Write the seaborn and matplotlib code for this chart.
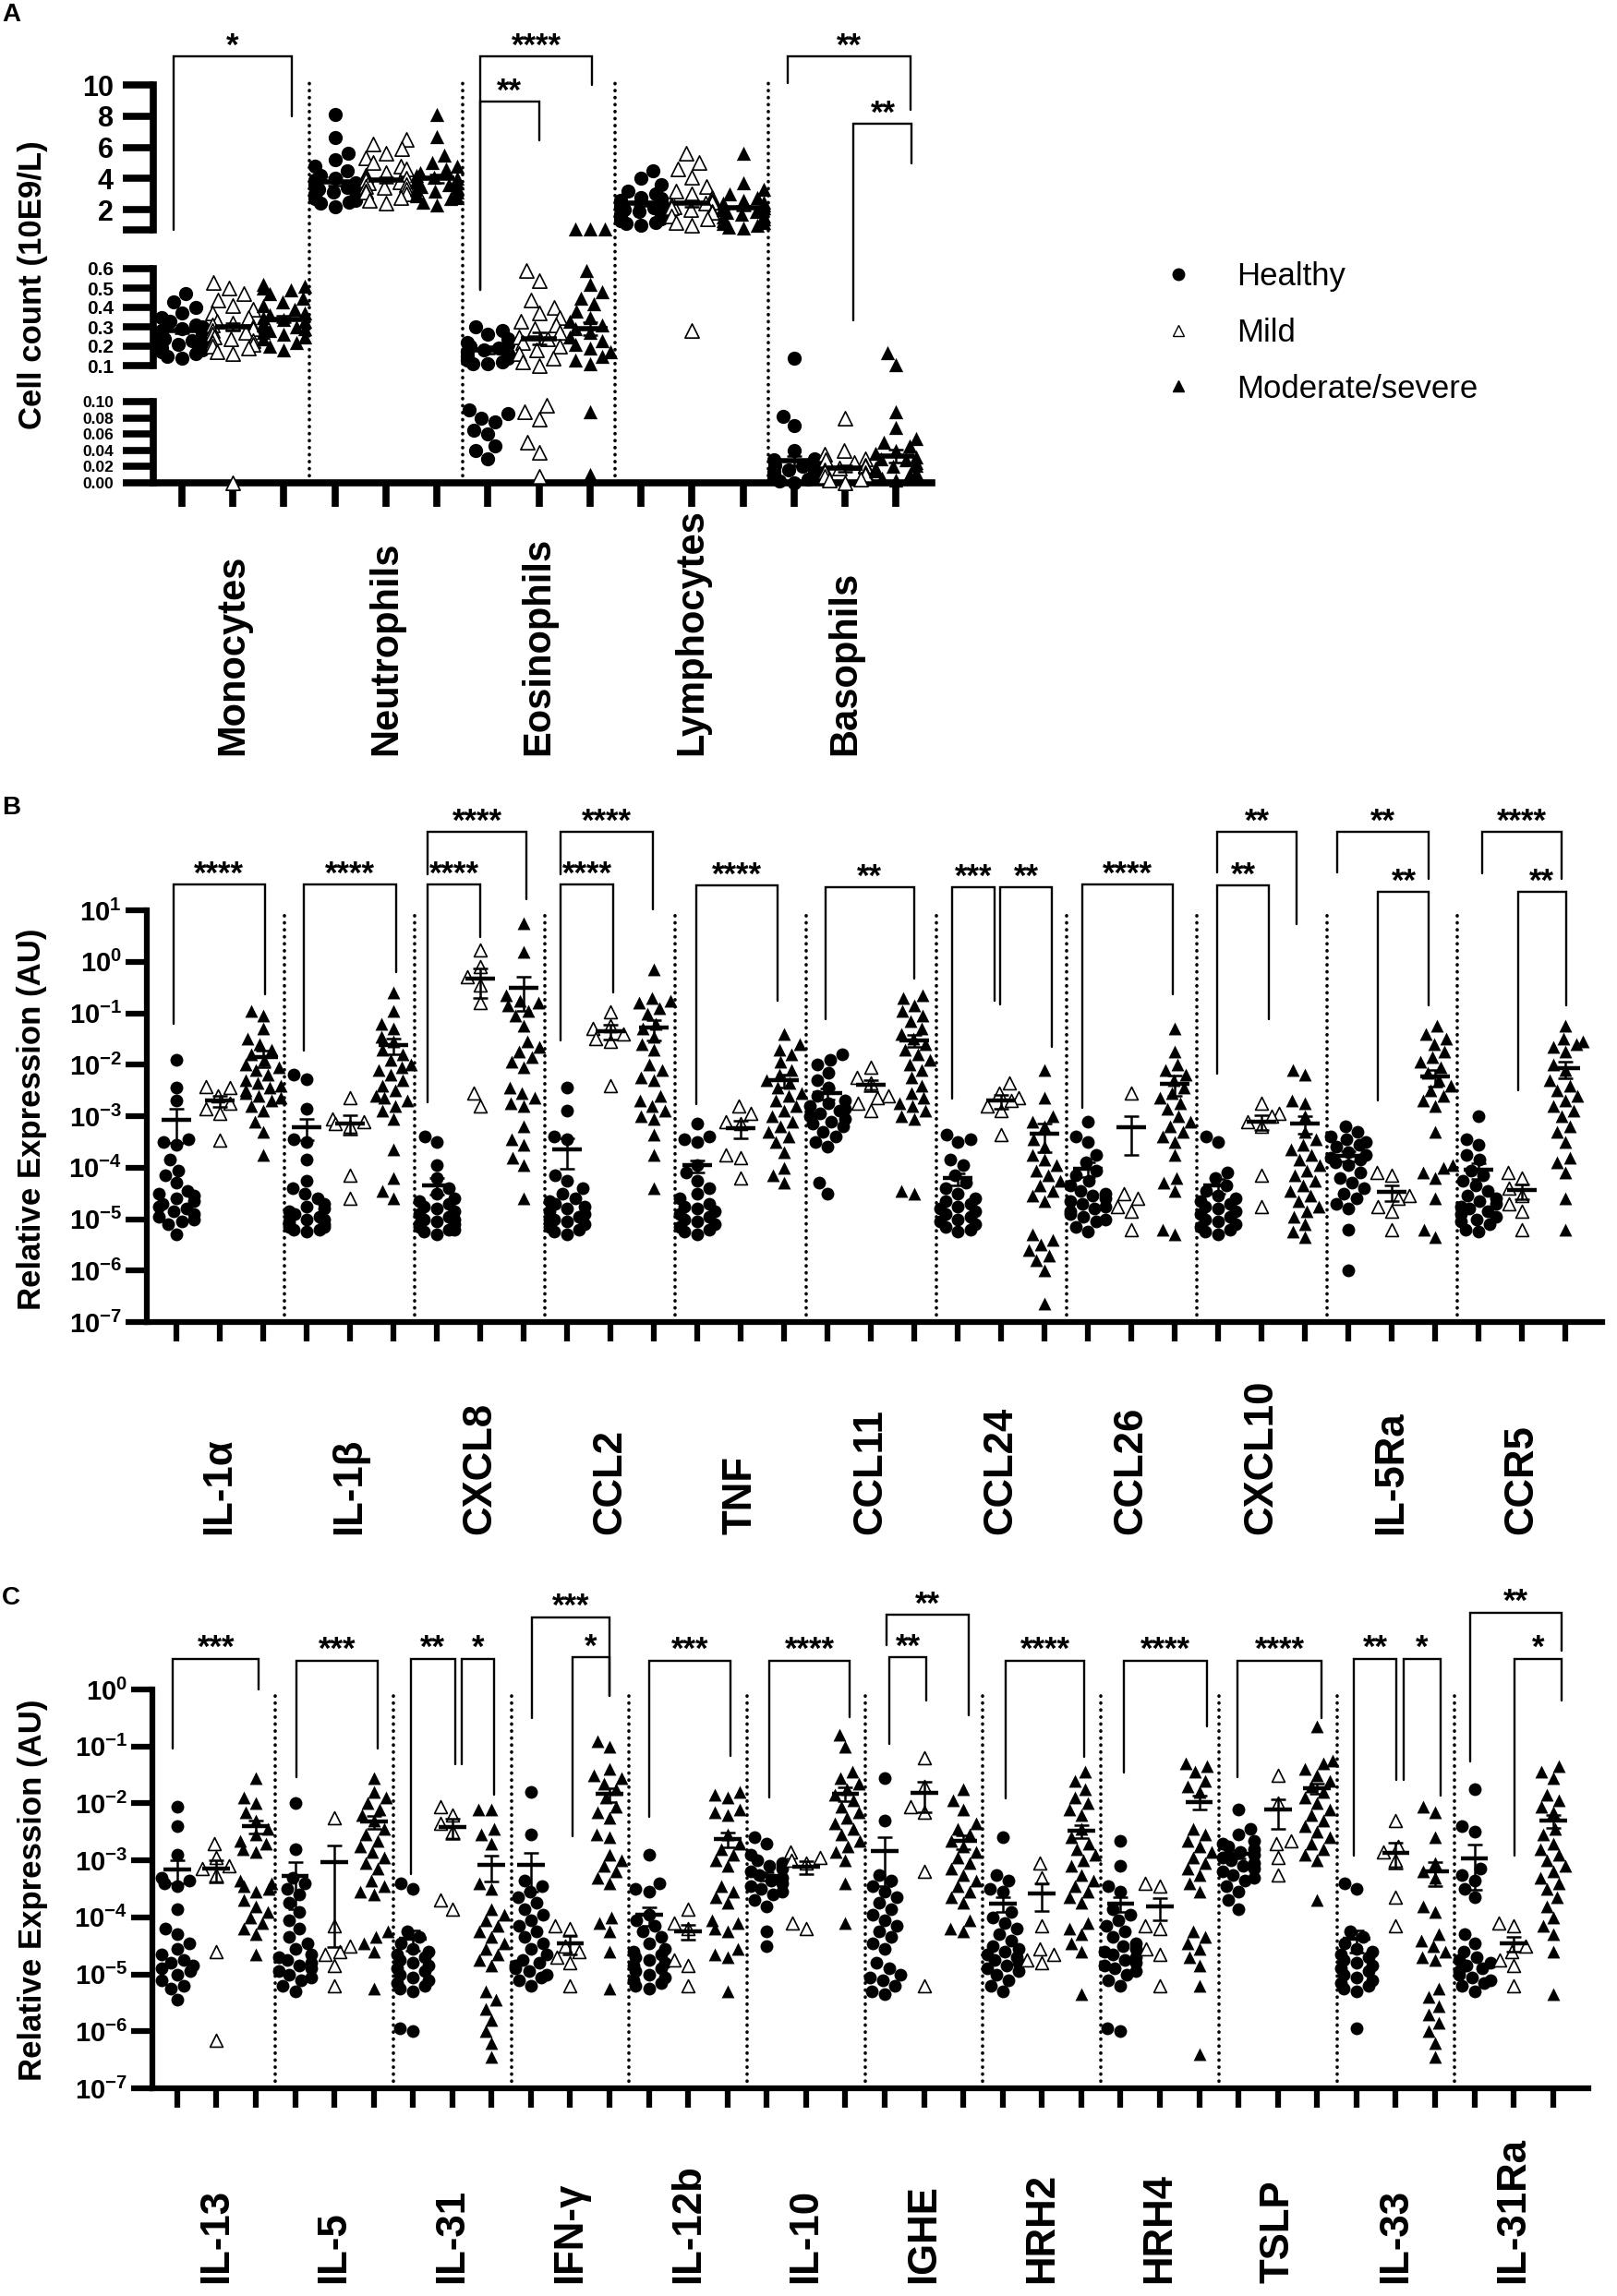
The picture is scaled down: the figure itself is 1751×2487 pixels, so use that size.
import matplotlib
matplotlib.use('Agg')
import matplotlib.pyplot as plt
from matplotlib.lines import Line2D
from matplotlib.transforms import blended_transform_factory
import seaborn as sns
import numpy as np
import pandas as pd
import warnings

warnings.filterwarnings('ignore')

sns.set_style('ticks', rc={'axes.edgecolor': 'black', 'xtick.color': 'black',
                           'ytick.color': 'black', 'text.color': 'black',
                           'axes.labelcolor': 'black'})
plt.rcParams['font.family'] = ['Liberation Sans', 'DejaVu Sans']

W, H = 1751, 2487


def fx(px):
    return px / W


def fy(py):
    return 1 - py / H


GROUPS = ['Healthy', 'Mild', 'Moderate/severe']

# ---------------- Panel A: blood cell counts (10E9/L) ----------------
cell_types = ['Monocytes', 'Neutrophils', 'Eosinophils', 'Lymphocytes', 'Basophils']
a_healthy = [
    [0.47, 0.43, 0.40, 0.37, 0.35, 0.33, 0.31, 0.30, 0.29, 0.28, 0.27, 0.26, 0.25, 0.24, 0.23, 0.22, 0.21, 0.20, 0.19, 0.18, 0.17, 0.16, 0.15, 0.14],
    [8.1, 6.6, 5.6, 5.2, 4.8, 4.5, 4.2, 4.0, 3.9, 3.8, 3.7, 3.6, 3.5, 3.4, 3.3, 3.2, 3.1, 3.0, 2.9, 2.8, 2.7, 2.6, 2.5, 2.4, 2.2],
    [0.30, 0.28, 0.26, 0.24, 0.22, 0.21, 0.20, 0.19, 0.18, 0.17, 0.16, 0.15, 0.14, 0.13, 0.12, 0.11, 0.11, 0.09, 0.085, 0.08, 0.075, 0.065, 0.06, 0.045, 0.04, 0.03],
    [4.5, 4.0, 3.6, 3.2, 3.0, 2.8, 2.7, 2.6, 2.5, 2.4, 2.3, 2.2, 2.1, 2.0, 1.9, 1.8, 1.7, 1.6, 1.5, 1.4, 1.3, 1.2, 1.1, 1.0],
    [0.14, 0.082, 0.07, 0.04, 0.03, 0.028, 0.025, 0.022, 0.02, 0.018, 0.016, 0.014, 0.012, 0.01, 0.008, 0.006, 0.004, 0.002, 0.0],
]
a_mild = [
    [0.53, 0.50, 0.47, 0.44, 0.41, 0.39, 0.37, 0.35, 0.33, 0.32, 0.31, 0.30, 0.29, 0.28, 0.27, 0.26, 0.25, 0.24, 0.23, 0.22, 0.21, 0.20, 0.19, 0.17, 0.16, 0.0],
    [6.5, 6.2, 5.9, 5.6, 5.3, 5.0, 4.8, 4.6, 4.4, 4.2, 4.1, 4.0, 3.9, 3.8, 3.7, 3.6, 3.5, 3.4, 3.3, 3.2, 3.1, 3.0, 2.8, 2.6, 2.4],
    [0.59, 0.54, 0.44, 0.40, 0.37, 0.35, 0.33, 0.31, 0.29, 0.27, 0.25, 0.24, 0.22, 0.20, 0.18, 0.16, 0.14, 0.12, 0.10, 0.095, 0.088, 0.078, 0.05, 0.037, 0.008],
    [5.6, 5.0, 4.6, 4.1, 3.5, 3.2, 3.0, 2.8, 2.6, 2.5, 2.4, 2.3, 2.2, 2.1, 2.0, 1.9, 1.8, 1.6, 1.4, 1.2, 1.0, 0.28],
    [0.08, 0.04, 0.035, 0.03, 0.028, 0.025, 0.022, 0.02, 0.018, 0.016, 0.014, 0.012, 0.01, 0.008, 0.005, 0.003, 0.0],
]
a_moderate = [
    [0.52, 0.51, 0.50, 0.49, 0.47, 0.45, 0.43, 0.41, 0.39, 0.37, 0.36, 0.35, 0.34, 0.33, 0.32, 0.31, 0.30, 0.29, 0.28, 0.27, 0.26, 0.25, 0.24, 0.22, 0.20, 0.18],
    [8.1, 6.7, 5.5, 5.0, 4.8, 4.6, 4.4, 4.2, 4.1, 4.0, 3.9, 3.8, 3.7, 3.6, 3.5, 3.4, 3.3, 3.2, 3.1, 3.0, 2.9, 2.8, 2.7, 2.5, 2.3],
    [0.75, 0.74, 0.73, 0.59, 0.52, 0.48, 0.45, 0.42, 0.38, 0.35, 0.33, 0.31, 0.29, 0.27, 0.25, 0.23, 0.21, 0.19, 0.17, 0.15, 0.13, 0.11, 0.088, 0.01],
    [5.6, 3.7, 3.3, 3.0, 2.8, 2.6, 2.5, 2.4, 2.3, 2.2, 2.1, 2.0, 1.9, 1.8, 1.7, 1.6, 1.5, 1.4, 1.3, 1.2, 1.1, 1.0, 0.9, 0.8],
    [0.165, 0.105, 0.088, 0.068, 0.055, 0.05, 0.045, 0.04, 0.036, 0.032, 0.03, 0.028, 0.025, 0.022, 0.02, 0.018, 0.015, 0.012, 0.01, 0.006, 0.003],
]
a_mean_healthy = [0.28, 3.8, 0.18, 2.4, 0.027]
a_sem_healthy = [0.015, 0.25, 0.02, 0.15, 0.006]
a_mean_mild = [0.30, 3.9, 0.24, 2.4, 0.018]
a_sem_mild = [0.02, 0.2, 0.03, 0.2, 0.004]
a_mean_moderate = [0.34, 4.0, 0.29, 2.1, 0.033]
a_sem_moderate = [0.015, 0.25, 0.035, 0.15, 0.008]

# ---------------- Panel B: relative expression, log10 values ----------------
genes_b = ['IL-1α', 'IL-1β', 'CXCL8', 'CCL2', 'TNF', 'CCL11', 'CCL24', 'CCL26', 'CXCL10', 'IL-5Ra', 'CCR5']
b_healthy_log = [
    [-1.9, -2.45, -2.7, -3.45, -3.5, -3.55, -3.85, -4.05, -4.15, -4.3, -4.45, -4.5, -4.55, -4.6, -4.65, -4.7, -4.75, -4.8, -4.85, -4.9, -4.95, -5.0, -5.05, -5.1, -5.3],
    [-2.2, -2.28, -2.85, -3.45, -3.5, -3.85, -4.25, -4.4, -4.5, -4.6, -4.7, -4.75, -4.8, -4.85, -4.9, -4.95, -5.0, -5.0, -5.05, -5.1, -5.1, -5.15, -5.15, -5.2, -5.2, -5.25],
    [-3.4, -3.5, -3.95, -4.2, -4.4, -4.5, -4.6, -4.65, -4.7, -4.75, -4.8, -4.85, -4.9, -4.95, -5.0, -5.0, -5.05, -5.1, -5.1, -5.15, -5.2, -5.2, -5.25, -5.3],
    [-2.45, -2.9, -3.4, -3.45, -4.15, -4.25, -4.4, -4.5, -4.6, -4.65, -4.7, -4.75, -4.8, -4.85, -4.9, -4.95, -5.0, -5.0, -5.05, -5.1, -5.15, -5.2, -5.25, -5.3],
    [-3.15, -3.4, -3.45, -3.5, -3.95, -4.1, -4.25, -4.4, -4.5, -4.6, -4.7, -4.75, -4.8, -4.85, -4.9, -4.95, -5.0, -5.05, -5.1, -5.15, -5.2, -5.25, -5.3],
    [-1.8, -1.9, -2.0, -2.15, -2.3, -2.45, -2.6, -2.7, -2.75, -2.8, -2.85, -2.9, -2.95, -3.0, -3.05, -3.1, -3.15, -3.2, -3.3, -3.4, -3.5, -3.6, -4.3, -4.5],
    [-3.35, -3.45, -3.5, -3.85, -3.95, -4.15, -4.3, -4.4, -4.5, -4.6, -4.65, -4.7, -4.75, -4.8, -4.85, -4.9, -4.95, -5.0, -5.05, -5.1, -5.15, -5.2, -5.25],
    [-3.1, -3.4, -3.5, -3.75, -3.9, -4.05, -4.15, -4.25, -4.35, -4.45, -4.5, -4.55, -4.6, -4.65, -4.7, -4.75, -4.8, -4.85, -4.9, -4.95, -5.0, -5.05, -5.15, -5.25],
    [-3.4, -3.5, -4.1, -4.2, -4.35, -4.45, -4.55, -4.6, -4.65, -4.7, -4.75, -4.8, -4.85, -4.9, -4.95, -5.0, -5.05, -5.1, -5.15, -5.2, -5.25, -5.3],
    [-3.2, -3.3, -3.4, -3.45, -3.5, -3.55, -3.6, -3.7, -3.75, -3.8, -3.85, -3.9, -3.95, -4.1, -4.2, -4.3, -4.4, -4.5, -4.6, -4.7, -4.8, -5.2, -6.0],
    [-3.0, -3.45, -3.55, -3.75, -3.85, -4.05, -4.15, -4.25, -4.35, -4.45, -4.55, -4.6, -4.65, -4.7, -4.75, -4.8, -4.85, -4.9, -4.95, -5.0, -5.05, -5.1, -5.2, -5.25],
]
b_mild_log = [
    [-2.42, -2.45, -2.6, -2.75, -2.85, -2.95, -3.47],
    [-2.65, -3.05, -3.1, -3.15, -3.2, -4.15, -4.6],
    [0.22, -0.1, -0.3, -0.45, -0.8, -2.55, -2.8],
    [-0.97, -1.25, -1.3, -1.4, -1.5, -1.55, -2.4],
    [-2.8, -2.95, -3.1, -3.15, -3.75, -3.8, -4.2],
    [-2.05, -2.25, -2.35, -2.6, -2.65, -2.75, -2.9],
    [-2.35, -2.55, -2.65, -2.7, -2.8, -2.9, -3.35],
    [-2.55, -4.5, -4.6, -4.75, -4.85, -5.2],
    [-2.75, -2.95, -3.0, -3.1, -3.2, -4.15, -4.75],
    [-4.1, -4.15, -4.55, -4.6, -4.75, -4.85, -5.2],
    [-4.1, -4.2, -4.4, -4.55, -4.7, -4.85, -5.2],
]
b_moderate_log = [
    [-0.95, -1.05, -1.3, -1.5, -1.6, -1.7, -1.8, -1.9, -2.0, -2.05, -2.1, -2.2, -2.3, -2.35, -2.4, -2.45, -2.5, -2.55, -2.6, -2.65, -2.7, -2.8, -2.9, -3.1, -3.3, -3.75],
    [-0.6, -0.95, -1.2, -1.3, -1.45, -1.55, -1.7, -1.8, -1.9, -2.0, -2.05, -2.1, -2.2, -2.3, -2.4, -2.5, -2.6, -2.65, -2.7, -2.8, -2.9, -3.05, -3.65, -4.2, -4.45, -4.6],
    [0.75, 0.2, -0.65, -0.75, -0.8, -0.85, -0.95, -1.05, -1.25, -1.55, -1.65, -1.75, -1.85, -1.95, -2.05, -2.45, -2.55, -2.65, -2.75, -2.8, -3.2, -3.45, -3.55, -3.8, -3.95, -4.6],
    [-0.15, -0.7, -0.75, -0.8, -0.9, -1.0, -1.2, -1.3, -1.45, -1.6, -1.7, -2.0, -2.1, -2.25, -2.3, -2.6, -2.7, -2.8, -2.9, -3.0, -3.05, -3.35, -3.75, -4.4],
    [-1.4, -1.6, -1.7, -1.8, -1.95, -2.1, -2.2, -2.3, -2.35, -2.45, -2.55, -2.6, -2.7, -2.8, -2.9, -3.0, -3.1, -3.2, -3.3, -3.4, -3.5, -3.7, -4.0, -4.15, -4.3],
    [-0.65, -0.7, -0.85, -0.95, -1.05, -1.15, -1.3, -1.4, -1.5, -1.6, -1.7, -1.8, -1.9, -2.0, -2.1, -2.25, -2.4, -2.55, -2.65, -2.75, -2.8, -2.9, -3.0, -3.05, -4.45, -4.5],
    [-2.1, -2.65, -3.0, -3.1, -3.2, -3.45, -3.6, -3.75, -3.85, -3.95, -4.05, -4.15, -4.25, -4.35, -4.45, -4.55, -4.65, -5.3, -5.4, -5.5, -5.6, -5.7, -5.8, -6.0, -6.65],
    [-1.3, -1.75, -2.0, -2.1, -2.2, -2.3, -2.45, -2.55, -2.65, -2.75, -2.85, -3.0, -3.1, -3.2, -3.3, -3.4, -3.5, -3.75, -4.2, -4.3, -4.45, -5.2, -5.3],
    [-2.1, -2.2, -2.7, -2.75, -3.0, -3.3, -3.45, -3.55, -3.65, -3.75, -3.85, -3.95, -4.05, -4.15, -4.25, -4.35, -4.45, -4.55, -4.65, -4.75, -4.85, -4.95, -5.1, -5.25, -5.35],
    [-1.25, -1.4, -1.5, -1.6, -1.75, -1.85, -1.95, -2.05, -2.15, -2.3, -2.4, -2.5, -2.6, -2.7, -2.8, -3.3, -3.95, -4.0, -4.1, -4.2, -4.6, -5.2, -5.35],
    [-1.25, -1.5, -1.55, -1.6, -1.65, -1.75, -2.0, -2.1, -2.3, -2.4, -2.5, -2.6, -2.7, -2.8, -2.9, -3.0, -3.2, -3.3, -3.5, -3.8, -3.9, -4.1, -4.6, -5.2],
]
b_mean_healthy = [8.5e-4, 6.2e-4, 4.6e-5, 2.3e-4, 1.1e-4, 2.8e-3, 6.2e-5, 9.5e-5, 4.6e-5, 1.7e-4, 9e-5]
b_sem_healthy = [5.5e-4, 2.8e-4, 1.6e-5, 1.35e-4, 3e-5, 7e-4, 1.6e-5, 3e-5, 1.5e-5, 4e-5, 3e-5]
b_mean_mild = [2.0e-3, 7.3e-4, 0.47, 4.5e-2, 5.9e-4, 4e-3, 2.0e-3, 6e-4, 7.8e-4, 3.4e-5, 3.6e-5]
b_sem_mild = [5e-4, 3e-4, 0.27, 1.4e-2, 2.2e-4, 1e-3, 6e-4, 4.2e-4, 2.5e-4, 1.2e-5, 1.2e-5]
b_mean_moderate = [1.4e-2, 2.4e-2, 0.31, 5.2e-2, 5e-3, 3e-2, 4.6e-4, 4.3e-3, 7.3e-4, 5.8e-3, 8.5e-3]
b_sem_moderate = [5e-3, 8e-3, 0.2, 2.2e-2, 1.4e-3, 8e-3, 2.6e-4, 1.8e-3, 2.8e-4, 2e-3, 3e-3]

# ---------------- Panel C: relative expression, log10 values ----------------
genes_c = ['IL-13', 'IL-5', 'IL-31', 'IFN-γ', 'IL-12b', 'IL-10', 'IGHE', 'HRH2', 'HRH4', 'TSLP', 'IL-33', 'IL-31Ra']
c_healthy_log = [
    [-2.05, -2.4, -2.9, -3.3, -3.35, -3.4, -3.45, -3.85, -4.2, -4.3, -4.45, -4.55, -4.65, -4.75, -4.8, -4.85, -4.9, -4.95, -5.0, -5.1, -5.2, -5.25, -5.45],
    [-2.0, -2.8, -3.3, -3.4, -3.5, -3.6, -3.75, -3.9, -4.05, -4.2, -4.35, -4.45, -4.55, -4.65, -4.7, -4.75, -4.8, -4.85, -4.9, -4.95, -5.0, -5.05, -5.1, -5.2, -5.3],
    [-3.4, -3.5, -4.25, -4.35, -4.45, -4.55, -4.6, -4.65, -4.7, -4.75, -4.8, -4.85, -4.9, -4.95, -5.0, -5.05, -5.1, -5.15, -5.2, -5.25, -5.3, -5.95, -6.0],
    [-1.8, -2.55, -3.35, -3.45, -3.55, -3.65, -3.75, -3.85, -3.95, -4.05, -4.15, -4.25, -4.35, -4.45, -4.55, -4.65, -4.75, -4.8, -4.85, -4.9, -4.95, -5.0, -5.05, -5.1, -5.2],
    [-2.9, -3.4, -3.5, -3.55, -3.95, -4.05, -4.15, -4.25, -4.35, -4.45, -4.55, -4.6, -4.65, -4.7, -4.75, -4.8, -4.85, -4.9, -4.95, -5.0, -5.05, -5.1, -5.15, -5.2, -5.25],
    [-2.6, -2.7, -2.9, -3.0, -3.05, -3.1, -3.15, -3.2, -3.25, -3.3, -3.35, -3.4, -3.45, -3.5, -3.55, -3.6, -3.7, -3.8, -4.25, -4.5],
    [-1.55, -2.3, -3.25, -3.35, -3.45, -3.55, -3.65, -3.75, -3.85, -3.95, -4.05, -4.15, -4.25, -4.35, -4.45, -4.55, -4.8, -4.9, -5.0, -5.05, -5.1, -5.2, -5.3, -5.35],
    [-2.6, -3.25, -3.35, -3.5, -3.55, -3.9, -4.0, -4.1, -4.2, -4.3, -4.4, -4.5, -4.55, -4.6, -4.65, -4.7, -4.75, -4.8, -4.85, -4.9, -4.95, -5.0, -5.1, -5.2, -5.3],
    [-2.65, -3.1, -3.45, -3.55, -3.85, -3.95, -4.05, -4.15, -4.25, -4.35, -4.45, -4.5, -4.55, -4.6, -4.65, -4.7, -4.75, -4.8, -4.85, -4.9, -4.95, -5.0, -5.1, -5.2, -5.95, -6.0],
    [-2.1, -2.45, -2.55, -2.65, -2.7, -2.75, -2.8, -2.85, -2.9, -2.95, -3.0, -3.05, -3.1, -3.15, -3.2, -3.25, -3.3, -3.35, -3.45, -3.55, -3.7, -3.85],
    [-3.4, -3.5, -4.25, -4.35, -4.45, -4.55, -4.6, -4.65, -4.7, -4.75, -4.8, -4.85, -4.9, -4.95, -5.0, -5.05, -5.1, -5.15, -5.2, -5.25, -5.3, -5.95],
    [-1.75, -2.4, -2.5, -3.15, -3.25, -3.35, -3.5, -3.65, -4.3, -4.45, -4.6, -4.7, -4.75, -4.8, -4.85, -4.9, -4.95, -5.0, -5.05, -5.1, -5.15, -5.2, -5.3],
]
c_mild_log = [
    [-2.7, -2.95, -3.1, -3.15, -3.25, -4.6, -6.15],
    [-2.25, -4.15, -4.5, -4.6, -4.65, -4.85, -5.2],
    [-2.05, -2.2, -2.35, -2.5, -3.7, -3.85],
    [-4.15, -4.2, -4.5, -4.6, -4.7, -4.8, -5.2],
    [-3.85, -4.1, -4.2, -4.75, -4.85, -5.2],
    [-2.85, -2.95, -3.0, -3.05, -4.1, -4.2],
    [-1.2, -1.7, -2.05, -2.15, -3.2, -5.2],
    [-3.05, -3.3, -4.15, -4.55, -4.65, -4.75, -4.8],
    [-3.4, -3.45, -4.15, -4.2, -4.55, -4.65, -5.2],
    [-1.5, -2.0, -2.65, -2.7, -2.95, -3.25],
    [-2.3, -2.75, -2.85, -3.0, -3.65, -4.15],
    [-4.1, -4.15, -4.5, -4.6, -4.75, -4.85, -5.2],
]
c_moderate_log = [
    [-1.55, -1.9, -2.0, -2.15, -2.3, -2.45, -2.55, -2.65, -2.7, -2.8, -2.85, -3.35, -3.4, -3.45, -3.5, -3.55, -3.7, -3.8, -3.9, -4.0, -4.1, -4.2, -4.3, -4.65],
    [-1.55, -1.8, -1.9, -2.0, -2.1, -2.2, -2.3, -2.45, -2.55, -2.65, -2.75, -2.85, -2.95, -3.05, -3.15, -3.35, -3.45, -3.55, -3.6, -4.25, -4.35, -4.45, -4.6, -5.25],
    [-2.1, -2.1, -2.45, -2.55, -2.7, -3.4, -3.5, -3.85, -3.95, -4.05, -4.15, -4.25, -4.35, -4.45, -4.55, -4.65, -4.75, -4.85, -5.3, -5.45, -5.6, -5.8, -6.0, -6.2, -6.45],
    [-0.9, -1.0, -1.4, -1.5, -1.55, -1.65, -1.75, -1.9, -2.05, -2.15, -2.25, -2.55, -2.6, -2.9, -3.0, -3.1, -3.2, -3.3, -3.4, -4.0, -4.1, -4.25, -4.6, -5.25],
    [-1.8, -1.85, -1.9, -2.1, -2.15, -2.2, -2.55, -2.7, -2.8, -2.9, -3.0, -3.1, -3.45, -3.55, -3.65, -3.75, -4.05, -4.1, -4.2, -4.25, -4.55, -4.65, -4.7, -5.3],
    [-0.8, -1.0, -1.45, -1.55, -1.65, -1.75, -1.85, -1.95, -2.05, -2.15, -2.25, -2.35, -2.45, -2.55, -2.65, -2.75, -2.85, -3.0, -3.4, -4.1],
    [-1.75, -1.95, -2.1, -2.35, -2.45, -2.55, -2.65, -2.75, -2.85, -2.95, -3.05, -3.15, -3.25, -3.35, -3.45, -3.55, -3.65, -3.75, -4.05, -4.2, -4.25],
    [-1.45, -1.6, -1.75, -1.9, -2.0, -2.1, -2.2, -2.45, -2.6, -2.7, -2.8, -2.9, -3.0, -3.1, -3.25, -3.35, -3.45, -3.55, -3.65, -3.75, -4.1, -4.2, -4.3, -4.45, -4.6, -5.35],
    [-1.3, -1.35, -1.45, -1.6, -1.7, -1.8, -2.45, -2.55, -2.65, -2.75, -2.85, -2.95, -3.05, -3.15, -3.25, -3.4, -3.55, -4.25, -4.35, -4.45, -4.55, -4.7, -4.85, -5.2, -6.4],
    [-0.65, -1.25, -1.3, -1.4, -1.5, -1.6, -1.7, -1.8, -1.9, -2.0, -2.1, -2.2, -2.3, -2.4, -2.5, -2.6, -2.7, -2.8, -2.9, -3.0, -3.7],
    [-2.05, -2.15, -2.6, -3.05, -3.2, -3.3, -3.8, -3.9, -4.3, -4.4, -4.5, -4.6, -4.7, -4.75, -5.25, -5.4, -5.55, -5.7, -5.85, -6.0, -6.2, -6.45],
    [-1.35, -1.45, -1.55, -1.85, -1.95, -2.05, -2.15, -2.45, -2.55, -2.7, -2.8, -2.9, -3.0, -3.1, -3.2, -3.3, -3.4, -3.5, -3.65, -3.8, -4.0, -4.15, -4.3, -4.6, -5.35],
]
c_mean_healthy = [6.9e-4, 5.4e-4, 4.2e-5, 8.3e-4, 1.1e-4, 5.4e-4, 1.45e-3, 1.75e-4, 1.75e-4, 1.3e-3, 4.2e-5, 1.1e-3]
c_sem_healthy = [3e-4, 4e-4, 1.6e-5, 5.5e-4, 4e-5, 9e-5, 1.1e-3, 5e-5, 5e-5, 2e-4, 1.8e-5, 8e-4]
c_mean_mild = [7.1e-4, 9.3e-4, 3.9e-3, 3.5e-5, 5.7e-5, 7.8e-4, 1.55e-2, 2.6e-4, 1.55e-4, 7.8e-3, 1.37e-3, 3.5e-5]
c_sem_mild = [3e-4, 9e-4, 1.5e-3, 1.3e-5, 1.6e-5, 2e-4, 8.5e-3, 1.3e-4, 6.5e-5, 4.2e-3, 6.5e-4, 1e-5]
c_mean_moderate = [4e-3, 4.8e-3, 8.3e-4, 1.45e-2, 2.4e-3, 1.5e-2, 2.2e-3, 3.3e-3, 1.07e-2, 1.85e-2, 6.5e-4, 5e-3]
c_sem_moderate = [1e-3, 1.2e-3, 4e-4, 4e-3, 7e-4, 4e-3, 6e-4, 8e-4, 3e-3, 4e-3, 3e-4, 1.3e-3]

# significance brackets: (x_left, x_right, y_top, y_left_end, y_right_end, label)
# panel A in units of the upper segment, panels B/C in log10 units
a_brackets = [
    (-0.16, 2.16, 11.83, 0.71, 7.99, '*'),
    (5.85, 8.04, 11.83, -3.14, 10.0, '****'),
    (5.85, 7.0, 8.93, -3.14, 6.45, '**'),
    (11.87, 14.29, 11.83, 10.1, 8.4, '**'),
    (13.17, 14.31, 7.51, -5.09, 4.97, '**'),
]
b_brackets = [
    (-0.07, 2.04, 1.50, -1.21, -0.63, '****'),
    (2.94, 5.06, 1.50, -1.73, -0.20, '****'),
    (5.79, 8.06, 2.52, 1.70, 1.22, '****'),
    (5.79, 7.0, 1.50, -2.73, 0.48, '****'),
    (8.86, 10.98, 2.52, 1.70, 1.02, '****'),
    (8.86, 10.06, 1.50, -1.53, -0.60, '****'),
    (11.98, 13.85, 1.48, -2.77, -0.76, '****'),
    (14.96, 16.99, 1.45, -1.12, -0.33, '**'),
    (17.87, 18.85, 1.45, -2.66, -0.76, '***'),
    (18.98, 20.18, 1.45, -0.83, -1.66, '**'),
    (20.87, 22.96, 1.50, -2.84, -0.63, '****'),
    (23.98, 25.81, 2.52, 1.74, 0.73, '**'),
    (23.98, 25.17, 1.48, -2.17, -1.12, '**'),
    (26.74, 28.86, 2.52, 1.74, 1.61, '**'),
    (27.69, 28.86, 1.36, -2.70, -0.85, '**'),
    (30.09, 31.91, 2.52, 1.72, 1.61, '****'),
    (30.91, 32.02, 1.36, -2.50, -0.85, '**'),
]
c_brackets = [
    (-0.11, 2.08, 0.54, -1.03, 0.0, '***'),
    (3.03, 5.11, 0.51, -1.54, -1.03, '***'),
    (5.95, 7.07, 0.54, -3.24, -1.32, '**'),
    (7.23, 8.06, 0.54, -1.32, -1.84, '*'),
    (9.02, 10.99, 1.27, -0.51, -0.11, '***'),
    (10.06, 10.99, 0.56, -2.57, -0.11, '*'),
    (12.0, 14.08, 0.51, -2.24, -1.16, '***'),
    (15.06, 17.11, 0.51, -1.89, -0.49, '****'),
    (18.05, 20.14, 1.31, 0.78, -0.46, '**'),
    (18.12, 19.06, 0.56, -0.95, -0.19, '**'),
    (21.08, 23.08, 0.51, -1.92, -1.19, '****'),
    (24.08, 26.2, 0.51, -1.46, -0.65, '****'),
    (26.98, 29.11, 0.51, -1.54, -0.51, '****'),
    (29.94, 31.02, 0.54, -2.92, -1.59, '**'),
    (31.21, 32.14, 0.54, -1.59, -1.86, '*'),
    (32.89, 35.22, 1.35, -1.27, 0.68, '**'),
    (34.02, 35.22, 0.54, -2.92, -0.19, '*'),
]

STYLE = {
    'Healthy': dict(marker='o', color='black', linewidth=0),
    'Mild': dict(marker='^', color='white', edgecolor='black', linewidth=1.2),
    'Moderate/severe': dict(marker='^', color='black', linewidth=0),
}


def long_frame(per_group, log=False):
    rows = []
    for g_idx, (gname, data) in enumerate(zip(GROUPS, per_group)):
        for k, vals in enumerate(data):
            for v in vals:
                rows.append((3 * k + g_idx, 10.0 ** v if log else v, gname))
    return pd.DataFrame(rows, columns=['pos', 'value', 'group'])


def draw_swarm(ax, df, n, size, clip=True):
    for g in GROUPS:
        sub = df[df['group'] == g]
        if sub.empty:
            continue
        sns.swarmplot(data=sub, x='pos', y='value', order=list(range(n)), size=size,
                      ax=ax, warn_thresh=1, clip_on=clip, zorder=3, **STYLE[g])


def draw_means(ax, means_list, sems_list, half, lw, cap, log=True):
    for g_idx, (means, sems) in enumerate(zip(means_list, sems_list)):
        means = np.asarray(means, dtype=float)
        sems = np.asarray(sems, dtype=float)
        pos = np.arange(len(means)) * 3 + g_idx
        low = np.minimum(sems, means * 0.97) if log else sems
        ax.hlines(means, pos - half, pos + half, colors='black', lw=lw, zorder=5)
        ax.errorbar(pos, means, yerr=[low, sems], fmt='none', ecolor='black',
                    elinewidth=1.8, capsize=cap, capthick=1.8, zorder=5)


def draw_brackets(ax, specs, log=True, fs=25):
    for xl, xr, top, lb, rb, label in specs:
        if log:
            top, lb, rb = 10.0 ** top, 10.0 ** lb, 10.0 ** rb
        ax.plot([xl, xl, xr, xr], [lb, top, top, rb], color='black', lw=1.7,
                clip_on=False, solid_joinstyle='miter', zorder=6)
        ax.annotate(label, xy=((xl + xr) / 2, top), xytext=(0, 1), textcoords='offset points',
                    ha='center', va='baseline', fontsize=fs, fontweight='bold',
                    annotation_clip=False)


def style_axis(ax, spine_w, ylen, ypad, xlen, bottom=True):
    for s in ['top', 'right']:
        ax.spines[s].set_visible(False)
    ax.spines['left'].set_linewidth(spine_w)
    if bottom:
        ax.spines['bottom'].set_linewidth(spine_w)
        ax.tick_params(axis='x', length=xlen, width=spine_w, labelbottom=False)
    else:
        ax.spines['bottom'].set_visible(False)
        ax.tick_params(axis='x', bottom=False, labelbottom=False)
    ax.tick_params(axis='y', length=ylen, width=spine_w, pad=ypad)
    ax.set_xlabel('')
    ax.set_ylabel('')
    ax.patch.set_alpha(0)


def put_labels(ax, names, y_px, fs):
    tr = blended_transform_factory(ax.transData, fig.transFigure)
    for k, name in enumerate(names):
        ax.text(3 * k + 1, fy(y_px), name, transform=tr, rotation=90, ha='center',
                va='bottom', fontsize=fs, fontweight='bold')


fig = plt.figure(figsize=(W / 100, H / 100), dpi=100)

# ================= Panel A (broken y axis, three segments) =================
na = 3 * len(cell_types)
df_a = long_frame([a_healthy, a_mild, a_moderate])
xl_a = (-0.56, 14.7)
seg_px = {'top': (92, 249), 'mid': (291, 396), 'bot': (435, 523)}
seg_lim = {'top': (0.7, 10), 'mid': (0.1, 0.6), 'bot': (0.0, 0.1)}
seg_ticks = {
    'top': ([0.7, 2, 4, 6, 8, 10], ['', '2', '4', '6', '8', '10'], 22),
    'mid': ([0.1, 0.2, 0.3, 0.4, 0.5, 0.6], ['0.1', '0.2', '0.3', '0.4', '0.5', '0.6'], 15),
    'bot': ([0.0, 0.02, 0.04, 0.06, 0.08, 0.10], ['0.00', '0.02', '0.04', '0.06', '0.08', '0.10'], 12.5),
}
seg_filter = {
    'top': df_a['value'] >= 0.65,
    'mid': (df_a['value'] >= 0.1) & (df_a['value'] < 0.65),
    'bot': df_a['value'] < 0.1,
}
axes_a = {}
for key, (p0, p1) in seg_px.items():
    ax = fig.add_axes([fx(166), fy(p1), fx(1009) - fx(166), (p1 - p0) / H])
    draw_swarm(ax, df_a[seg_filter[key]], na, size=11, clip=False)
    draw_means(ax, [a_mean_healthy, a_mean_mild, a_mean_moderate],
               [a_sem_healthy, a_sem_mild, a_sem_moderate], half=0.35, lw=4, cap=6, log=False)
    ax.set_xlim(*xl_a)
    ax.set_ylim(*seg_lim[key])
    ticks, labels, tfs = seg_ticks[key]
    ax.set_yticks(ticks)
    ax.set_yticklabels(labels, fontsize=tfs, fontweight='bold')
    style_axis(ax, 5.5, 24, 7, 19, bottom=(key == 'bot'))
    ax.set_xticks(range(na))
    axes_a[key] = ax

ax_top, ax_bot = axes_a['top'], axes_a['bot']
tr_a = blended_transform_factory(ax_bot.transData, fig.transFigure)
for xs in np.arange(2.5, na - 1, 3):
    ax_bot.add_line(Line2D([xs, xs], [fy(523), fy(90)], transform=tr_a, color='black', lw=2.6,
                           ls=(0, (0.1, 2.0)), dash_capstyle='round', clip_on=False, zorder=1))
draw_brackets(ax_top, a_brackets, log=False)
put_labels(ax_bot, cell_types, 818, 30)
fig.text(fx(36), fy(309), 'Cell count (10E9/L)', rotation=90, ha='center', va='center',
         fontsize=25, fontweight='bold')

handles = [Line2D([], [], ls='none', marker='o', color='black', markersize=9),
           Line2D([], [], ls='none', marker='^', markerfacecolor='white', markeredgecolor='black',
                  markeredgewidth=1.0, markersize=9),
           Line2D([], [], ls='none', marker='^', color='black', markersize=9)]
fig.legend(handles, GROUPS, loc='upper left', bbox_to_anchor=(fx(1259), fy(283)), frameon=False,
           fontsize=25, handlelength=1.0, handletextpad=1.3, labelspacing=0.8,
           borderpad=0, borderaxespad=0)


# ================= Panels B and C (log scale) =================
def log_panel(rect, per_group, means, sems, xl, ylim_exp, brackets, genes, label_px):
    n = 3 * len(genes)
    ax = fig.add_axes(rect)
    ax.set_yscale('log')
    df = long_frame(per_group, log=True)
    for xs in np.arange(2.5, n - 1, 3):
        ax.axvline(xs, color='black', lw=2.6, ls=(0, (0.1, 2.0)), dash_capstyle='round', zorder=1)
    draw_swarm(ax, df, n, size=10)
    draw_means(ax, means, sems, half=0.35, lw=3.2, cap=6)
    draw_brackets(ax, brackets)
    exps = list(range(ylim_exp[1], ylim_exp[0] - 1, -1))
    ax.set_yticks([10.0 ** e for e in exps])
    ax.set_yticklabels([f'$\\mathdefault{{10^{{{e}}}}}$' for e in exps], fontsize=21, fontweight='bold')
    ax.yaxis.set_minor_locator(plt.NullLocator())
    ax.set_xlim(*xl)
    ax.set_ylim(10.0 ** ylim_exp[0], 10.0 ** ylim_exp[1])
    ax.set_xticks(range(n))
    style_axis(ax, 4.5, 16.5, 3, 15)
    put_labels(ax, genes, label_px, 31.5)
    return ax


ax_b = log_panel([fx(159), fy(1432), fx(1735) - fx(159), (1432 - 986) / H],
                 [b_healthy_log, b_mild_log, b_moderate_log],
                 [b_mean_healthy, b_mean_mild, b_mean_moderate],
                 [b_sem_healthy, b_sem_mild, b_sem_moderate],
                 (-0.68, 32.85), (-7, 1), b_brackets, genes_b, 1662)
fig.text(fx(35), fy(1212), 'Relative Expression (AU)', rotation=90, ha='center', va='center',
         fontsize=25, fontweight='bold')

ax_c = log_panel([fx(165), fy(2262), fx(1720) - fx(165), (2262 - 1830) / H],
                 [c_healthy_log, c_mild_log, c_moderate_log],
                 [c_mean_healthy, c_mean_mild, c_mean_moderate],
                 [c_sem_healthy, c_sem_mild, c_sem_moderate],
                 (-0.63, 35.9), (-7, 0), c_brackets, genes_c, 2473)
fig.text(fx(36), fy(2047), 'Relative Expression (AU)', rotation=90, ha='center', va='center',
         fontsize=25, fontweight='bold')

# panel letters
for letter, top_px in [('A', 3), ('B', 862), ('C', 1718)]:
    fig.text(fx(2), fy(top_px), letter, ha='left', va='top', fontsize=20, fontweight='bold')

fig.savefig('out.png', dpi=100, facecolor='white')
